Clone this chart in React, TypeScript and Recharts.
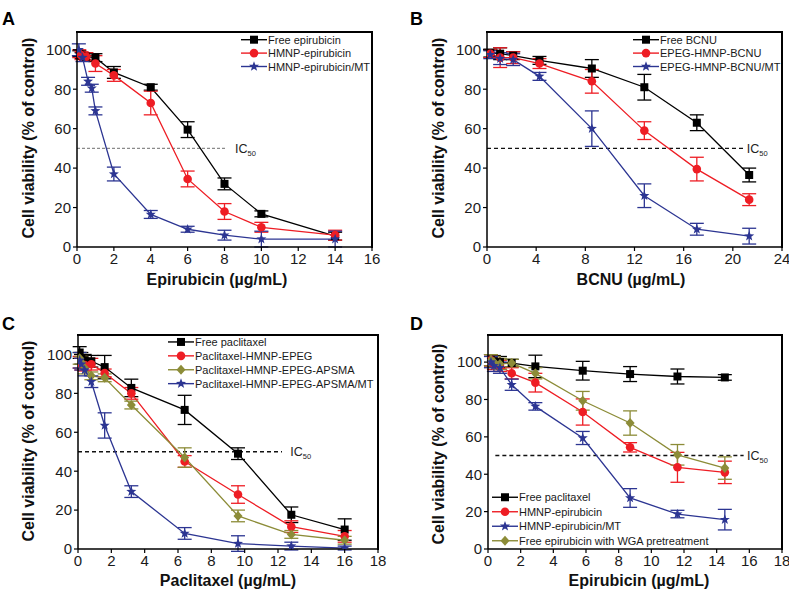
import React from 'react';
import { LineChart, Line, XAxis, YAxis, ErrorBar, ReferenceLine, ReferenceDot, Legend } from 'recharts';

const FONT = '"Liberation Sans", Arial, Helvetica, sans-serif';
const BLACK = '#000000';
const RED = '#ee1d24';
const BLUE = '#2c3592';
const OLIVE = '#8c8c38';

// Panel A - epirubicin
const aDose = [0.125, 0.25, 0.5, 1, 2, 4, 6, 8, 10, 14];
const aFree = [98, 97, 96.5, 96, 88.5, 81, 59.5, 32, 16.8, 5.5];
const aFreeErr = [1.5, 1.5, 2, 2, 3, 1.5, 4, 3, 1.5, 2];
const aHmnp = [98, 97, 96.5, 93, 87, 73, 34.5, 18, 10, 6];
const aHmnpErr = [2, 2, 2, 4, 3, 6, 4, 4, 2.5, 2.5];
const aDoseMt = [0.1, 0.3, 0.6, 0.8, 1, 2, 4, 6, 8, 10, 14];
const aMt = [100, 96, 84, 80.5, 69, 37, 16.5, 9, 6, 4, 4];
const aMtErr = [3, 2, 2, 2, 2, 3.5, 2, 1.5, 2.5, 4, 4];

// Panel B - BCNU
const bDose = [0.27, 1.07, 2.13, 4.27, 8.53, 12.8, 17.07, 21.33];
const bFree = [98.3, 98, 97, 94.6, 90.5, 81, 63, 36.5];
const bFreeErr = [2, 3, 2, 2, 4.5, 6.5, 4, 3.5];
const bEpeg = [98, 96, 96, 93, 84, 59, 39.5, 24];
const bEpegErr = [2, 5, 3, 2.5, 6, 4.5, 6, 3];
const bMt = [97.5, 95.5, 95, 86.5, 60, 26, 9, 5.5];
const bMtErr = [2, 3, 3, 2, 9, 6, 3, 4];

// Panel C - paclitaxel
const cDose = [0.1, 0.2, 0.4, 0.8, 1.6, 3.2, 6.4, 9.6, 12.8, 16];
const cFree = [101, 98, 97, 96.5, 93.5, 82.8, 71.5, 49, 17.6, 10];
const cFreeErr = [3, 3, 3, 3, 6, 4.5, 7.5, 3, 4, 5.5];
const cEpeg = [96, 95, 94.5, 95, 90.5, 80, 45, 28, 11.5, 6.5];
const cEpegErr = [3, 3, 3, 3, 2, 3, 3, 4.5, 3, 3];
const cApsma = [98, 96, 93, 89, 88, 74, 47, 17, 7.5, 4.5];
const cApsmaErr = [3, 3, 3, 2, 2, 2, 5, 3, 2, 2];
const cMt = [97, 95, 92, 86, 63.5, 29.5, 8, 2.8, 1.5, 0.5];
const cMtErr = [4, 3, 3, 3, 6.5, 3, 3, 4, 2, 1];

// Panel D - epirubicin with WGA
const dDose = [0.18, 0.36, 0.73, 1.45, 2.9, 5.8, 8.7, 11.6, 14.5];
const dFree = [101, 100.5, 100, 99.5, 97.7, 95.4, 93.6, 92.3, 91.8];
const dFreeErr = [3, 3, 3, 2, 6, 5, 4, 4, 1.5];
const dHmnp = [101, 99, 98, 94, 89, 73.3, 54.4, 43.7, 41];
const dHmnpErr = [3, 3, 3, 3, 5, 7, 2.5, 8, 6];
const dMt = [100, 98, 97, 87.9, 76.3, 59.4, 27.3, 18.7, 15.7];
const dMtErr = [3, 3, 3, 3, 2, 3.5, 5, 2, 5.5];
const dWga = [101, 100, 99, 99.5, 94, 79.3, 67.4, 50.4, 43.3];
const dWgaErr = [3, 3, 3, 2, 3, 5, 6.5, 5.5, 6];

const yTicks = [0, 20, 40, 60, 80, 100];

type Pt = { x: number; y: number; e: number };
type Shape = 'square' | 'circle' | 'star' | 'diamond';
type Series = { name: string; color: string; shape: Shape; data: Pt[] };

const pts = (xs: number[], ys: number[], es: number[]): Pt[] =>
  xs.map((x, i) => ({ x, y: ys[i], e: es[i] }));

function starPoints(cx: number, cy: number, R: number, r: number) {
  const p: string[] = [];
  for (let i = 0; i < 10; i++) {
    const a = -Math.PI / 2 + (i * Math.PI) / 5;
    const rad = i % 2 === 0 ? R : r;
    p.push(`${cx + rad * Math.cos(a)},${cy + rad * Math.sin(a)}`);
  }
  return p.join(' ');
}

function Marker({ shape, cx, cy, color }: { shape: Shape; cx: number; cy: number; color: string }) {
  if (cx == null || cy == null) return null;
  if (shape === 'square') return <rect x={cx - 4} y={cy - 4} width={8} height={8} fill={color} />;
  if (shape === 'circle') return <circle cx={cx} cy={cy} r={4.3} fill={color} />;
  if (shape === 'diamond')
    return <polygon points={`${cx},${cy - 5} ${cx + 4.5},${cy} ${cx},${cy + 5} ${cx - 4.5},${cy}`} fill={color} />;
  return <polygon points={starPoints(cx, cy, 5.3, 2.2)} fill={color} />;
}

type PanelCfg = {
  letter: string;
  left: number;
  top: number;
  width: number;
  height: number;
  x0: number;
  x1: number;
  y0: number;
  y1: number;
  xMax: number;
  xTicks: number[];
  yMax: number;
  xLabel: string;
  xLabelPos: [number, number];
  yLabelPos: [number, number];
  ic: { from: number; to: number; labelX: number; color: string; dash: string };
  legend: { left: number; top: number; rowH: number };
  series: Series[];
};

const panels: PanelCfg[] = [
  {
    letter: 'A', left: 0, top: 0, width: 395, height: 290,
    x0: 77, x1: 372, y0: 32, y1: 247,
    xMax: 16, xTicks: [0, 2, 4, 6, 8, 10, 12, 14, 16], yMax: 109,
    xLabel: 'Epirubicin (µg/mL)', xLabelPos: [217, 285], yLabelPos: [34, 138],
    ic: { from: 0, to: 8.1, labelX: 8.57, color: '#8a8a8a', dash: '3 2' },
    legend: { left: 241, top: 32.6, rowH: 13.4 },
    series: [
      { name: 'Free epirubicin', color: BLACK, shape: 'square', data: pts(aDose, aFree, aFreeErr) },
      { name: 'HMNP-epirubicin', color: RED, shape: 'circle', data: pts(aDose, aHmnp, aHmnpErr) },
      { name: 'HMNP-epirubicin/MT', color: BLUE, shape: 'star', data: pts(aDoseMt, aMt, aMtErr) },
    ],
  },
  {
    letter: 'B', left: 395, top: 0, width: 394, height: 290,
    x0: 92, x1: 387, y0: 32, y1: 247,
    xMax: 24, xTicks: [0, 4, 8, 12, 16, 20, 24], yMax: 109,
    xLabel: 'BCNU (µg/mL)', xLabelPos: [236, 285], yLabelPos: [49, 138],
    ic: { from: 0, to: 20.85, labelX: 21.14, color: '#111', dash: '4 3' },
    legend: { left: 238, top: 32.6, rowH: 13.4 },
    series: [
      { name: 'Free BCNU', color: BLACK, shape: 'square', data: pts(bDose, bFree, bFreeErr) },
      { name: 'EPEG-HMNP-BCNU', color: RED, shape: 'circle', data: pts(bDose, bEpeg, bEpegErr) },
      { name: 'EPEG-HMNP-BCNU/MT', color: BLUE, shape: 'star', data: pts(bDose, bMt, bMtErr) },
    ],
  },
  {
    letter: 'C', left: 0, top: 290, width: 395, height: 303,
    x0: 78, x1: 378, y0: 45, y1: 259,
    xMax: 18, xTicks: [0, 2, 4, 6, 8, 10, 12, 14, 16, 18], yMax: 110,
    xLabel: 'Paclitaxel (µg/mL)', xLabelPos: [228, 296], yLabelPos: [34, 151],
    ic: { from: 0, to: 12.24, labelX: 12.74, color: '#111', dash: '4 3' },
    legend: { left: 168, top: 44.8, rowH: 13.9 },
    series: [
      { name: 'Free paclitaxel', color: BLACK, shape: 'square', data: pts(cDose, cFree, cFreeErr) },
      { name: 'Paclitaxel-HMNP-EPEG', color: RED, shape: 'circle', data: pts(cDose, cEpeg, cEpegErr) },
      { name: 'Paclitaxel-HMNP-EPEG-APSMA', color: OLIVE, shape: 'diamond', data: pts(cDose, cApsma, cApsmaErr) },
      { name: 'Paclitaxel-HMNP-EPEG-APSMA/MT', color: BLUE, shape: 'star', data: pts(cDose, cMt, cMtErr) },
    ],
  },
  {
    letter: 'D', left: 395, top: 290, width: 394, height: 303,
    x0: 93, x1: 387, y0: 45, y1: 259,
    xMax: 18, xTicks: [0, 2, 4, 6, 8, 10, 12, 14, 16, 18], yMax: 114.5,
    xLabel: 'Epirubicin (µg/mL)', xLabelPos: [244, 296], yLabelPos: [49, 154],
    ic: { from: 0.45, to: 15.65, labelX: 15.86, color: '#111', dash: '4 3' },
    legend: { left: 97, top: 200, rowH: 14.5 },
    series: [
      { name: 'Free paclitaxel', color: BLACK, shape: 'square', data: pts(dDose, dFree, dFreeErr) },
      { name: 'HMNP-epirubicin', color: RED, shape: 'circle', data: pts(dDose, dHmnp, dHmnpErr) },
      { name: 'HMNP-epirubicin/MT', color: BLUE, shape: 'star', data: pts(dDose, dMt, dMtErr) },
      { name: 'Free epirubicin with WGA pretreatment', color: OLIVE, shape: 'diamond', data: pts(dDose, dWga, dWgaErr) },
    ],
  },
];

// draw order: black, red, olive, blue on top
const rank = (c: string) => (c === BLACK ? 0 : c === RED ? 1 : c === OLIVE ? 2 : 3);
const drawOrder = (s: Series[]) => [...s].sort((a, b) => rank(a.color) - rank(b.color));

function LegendBox({ cfg }: { cfg: PanelCfg }) {
  const h = cfg.legend.rowH * cfg.series.length;
  return (
    <svg width={230} height={h} style={{ display: 'block', overflow: 'visible' }}>
      {cfg.series.map((s, i) => {
        const cy = cfg.legend.rowH * i + cfg.legend.rowH / 2;
        return (
          <g key={s.name}>
            <line x1={0} x2={26} y1={cy} y2={cy} stroke={s.color} strokeWidth={1.4} />
            <Marker shape={s.shape} cx={13} cy={cy} color={s.color} />
            <text x={27} y={cy + 4} fontSize={11} fill="#1a1a1a" fontFamily={FONT}>{s.name}</text>
          </g>
        );
      })}
    </svg>
  );
}

function Panel({ cfg }: { cfg: PanelCfg }) {
  const axisLine = { stroke: '#000', strokeWidth: 1.5 };
  const tickStyle = { fill: '#1a1a1a', fontSize: 15, fontFamily: FONT };
  return (
    <div style={{ position: 'absolute', left: cfg.left, top: cfg.top, width: cfg.width, height: cfg.height }}>
      <LineChart
        width={cfg.width}
        height={cfg.height}
        margin={{ top: cfg.y0, right: cfg.width - cfg.x1, bottom: 0, left: 0 }}
      >
        <XAxis
          dataKey="x"
          type="number"
          domain={[0, cfg.xMax]}
          ticks={cfg.xTicks}
          interval={0}
          allowDataOverflow
          height={cfg.height - cfg.y1}
          tickSize={4}
          axisLine={axisLine}
          tickLine={{ stroke: '#000', strokeWidth: 1.2 }}
          tick={tickStyle}
          label={{
            content: () => (
              <text x={cfg.xLabelPos[0]} y={cfg.xLabelPos[1]} textAnchor="middle" fontSize={16} fontWeight="bold" fontFamily={FONT} fill="#111">
                {cfg.xLabel}
              </text>
            ),
          }}
        />
        <YAxis
          type="number"
          domain={[0, cfg.yMax]}
          ticks={yTicks}
          interval={0}
          allowDataOverflow
          width={cfg.x0}
          tickSize={4}
          axisLine={axisLine}
          tickLine={{ stroke: '#000', strokeWidth: 1.2 }}
          tick={tickStyle}
          label={{
            content: () => (
              <text
                x={cfg.yLabelPos[0]}
                y={cfg.yLabelPos[1]}
                transform={`rotate(-90 ${cfg.yLabelPos[0]} ${cfg.yLabelPos[1]})`}
                textAnchor="middle"
                fontSize={16}
                fontWeight="bold"
                fontFamily={FONT}
                fill="#111"
              >
                Cell viability (% of control)
              </text>
            ),
          }}
        />
        <ReferenceLine
          segment={[{ x: cfg.ic.from, y: 50 }, { x: cfg.ic.to, y: 50 }]}
          stroke={cfg.ic.color}
          strokeWidth={1.4}
          strokeDasharray={cfg.ic.dash}
        />
        <ReferenceDot
          x={cfg.ic.labelX}
          y={50}
          r={1}
          fill="none"
          stroke="none"
          label={(p: any) => {
            const vb = p && p.viewBox ? p.viewBox : { x: 0, y: 0, width: 0, height: 0 };
            const x = vb.x + (vb.width || 0) / 2;
            const y = vb.y + (vb.height || 0) / 2;
            return (
              <text x={x} y={y + 4.5} fontSize={12.5} fontFamily={FONT} fill="#222">
                IC<tspan fontSize={7.5} dy={3}>50</tspan>
              </text>
            );
          }}
        />
        {drawOrder(cfg.series).map((s) => (
          <Line
            key={s.name}
            data={s.data}
            dataKey="y"
            name={s.name}
            type="linear"
            stroke={s.color}
            strokeWidth={1.3}
            isAnimationActive={false}
            activeDot={false}
            dot={(p: any) => (
              <Marker key={`${s.name}-${p.index}`} shape={s.shape} cx={p.cx} cy={p.cy} color={s.color} />
            )}
          >
            <ErrorBar dataKey="e" direction="y" width={7} stroke={s.color} strokeWidth={1.3} isAnimationActive={false} />
          </Line>
        ))}
        <Legend
          layout="vertical"
          align="center"
          verticalAlign="middle"
          wrapperStyle={{ left: cfg.legend.left, top: cfg.legend.top, width: 230 }}
          content={() => <LegendBox cfg={cfg} />}
        />
      </LineChart>
      {/* plot frame (top and right edges of the box) */}
      <div
        style={{
          position: 'absolute',
          left: cfg.x0 - 1,
          top: cfg.y0 - 1,
          width: cfg.x1 - cfg.x0 + 2,
          height: cfg.y1 - cfg.y0 + 2,
          borderTop: '2px solid #000',
          borderRight: '2px solid #000',
          boxSizing: 'border-box',
          pointerEvents: 'none',
        }}
      />
    </div>
  );
}

export default function App() {
  return (
    <div style={{ position: 'absolute', left: 0, top: 0, width: 789, height: 593, background: '#fff', fontFamily: FONT, overflow: 'hidden' }}>
      {panels.map((p) => (
        <Panel key={p.letter} cfg={p} />
      ))}
      <svg width={789} height={593} style={{ position: 'absolute', left: 0, top: 0, pointerEvents: 'none' }}>
        {panels.map((p) => (
          <text
            key={p.letter}
            x={p.left === 0 ? 2 : 410}
            y={p.top === 0 ? 25 : 330}
            fontSize={18}
            fontWeight="bold"
            fontFamily={FONT}
            fill="#000"
          >
            {p.letter}
          </text>
        ))}
      </svg>
    </div>
  );
}
